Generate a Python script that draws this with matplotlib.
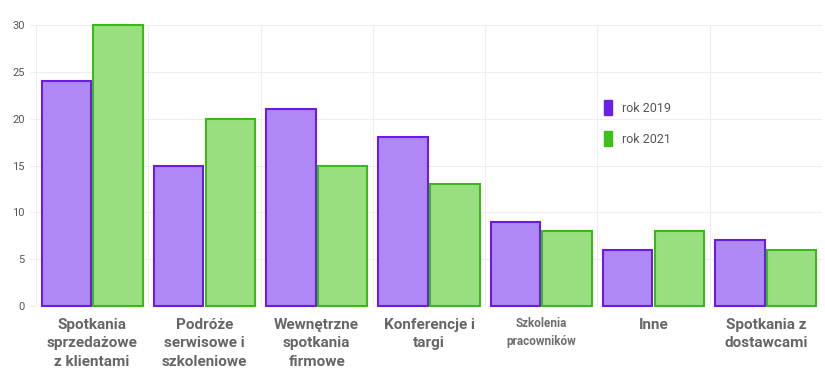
import numpy as np
import matplotlib.pyplot as plt
from matplotlib.patches import Patch

categories = ["Spotkania\nsprzedażowe\nz klientami", "Podróże\nserwisowe i\nszkoleniowe",
              "Wewnętrzne\nspotkania\nfirmowe", "Konferencje i\ntargi",
              "Szkolenia\npracowników", "Inne", "Spotkania z\ndostawcami"]
rok_2019 = [24, 15, 21, 18, 9, 6, 7]
rok_2021 = [30, 20, 15, 13, 8, 8, 6]
series_labels = ["rok 2019", "rok 2021"]

plt.rcParams['font.family'] = ['Roboto', 'DejaVu Sans']

fig = plt.figure(figsize=(8.25, 3.88), dpi=100)
ax = fig.add_axes([36/825, 82/388, 786/825, 281/388])

x = np.arange(len(categories))
w = 0.44
b1 = ax.bar(x - w/2 - 0.01, rok_2019, w, color="#b088f5", edgecolor="#6a1de0", linewidth=1.5, zorder=3)
b2 = ax.bar(x + w/2 + 0.01, rok_2021, w, color="#98df80", edgecolor="#3cb81a", linewidth=1.5, zorder=3)
for p in list(b1) + list(b2):
    p.set_clip_on(False)

ax.set_xlim(-0.5, len(categories) - 0.5)
ax.set_ylim(0, 30)
ax.set_yticks(range(0, 31, 5))
ax.set_xticks(np.arange(len(categories) + 1) - 0.5, minor=False)
ax.set_xticklabels([])
ax.tick_params(axis='x', length=0)
ax.tick_params(axis='y', length=4, color="#eeeeee", labelsize=8, labelcolor="#555555", pad=4)
ax.grid(True, color="#eeeeee", linewidth=0.8, zorder=0)
for s in ax.spines.values():
    s.set_visible(False)

for i, lab in enumerate(categories):
    if i == 4:
        ax.text(i, -1.2, lab, ha='center', va='top', fontsize=8.5, fontweight='bold',
                color="#6e6e6e", linespacing=1.45)
    else:
        ax.text(i, -1.25, lab, ha='center', va='top', fontsize=11, fontweight='bold',
                color="#666666", linespacing=1.42)

handles = [Patch(facecolor="#6b1ee6", edgecolor="#6b1ee6"), Patch(facecolor="#3fbf1a", edgecolor="#3fbf1a")]
leg = ax.legend(handles, series_labels, loc='upper left', bbox_to_anchor=(557/786, 214/281 + 0.01),
                frameon=False, fontsize=9, handlelength=0.6, handleheight=1.4, labelspacing=1.3,
                handletextpad=0.8)
for t in leg.get_texts():
    t.set_color("#555555")

fig.savefig("out.png", dpi=100)
